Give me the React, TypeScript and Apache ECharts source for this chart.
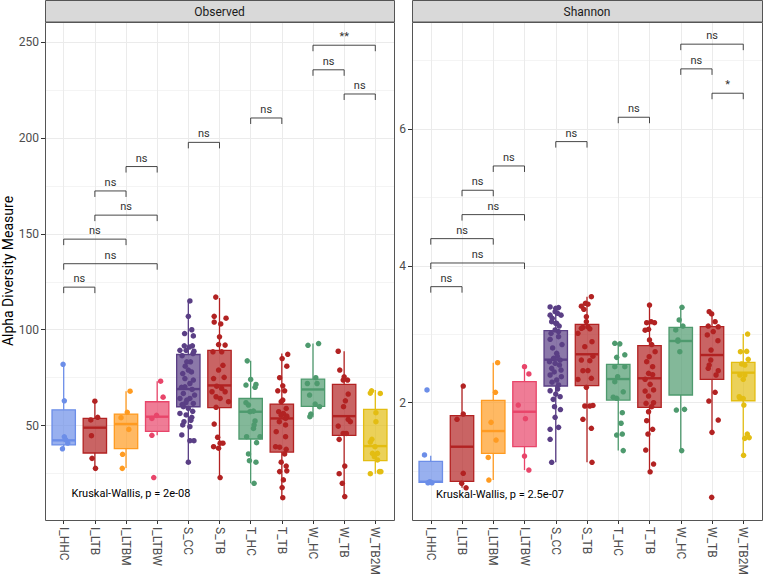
import React, { useEffect, useRef } from 'react';
import * as echarts from 'echarts';

// ---- groups and colours ----
const groups = ['I_HHC', 'I_LTB', 'I_LTBM', 'I_LTBW', 'S_CC', 'S_TB', 'T_HC', 'T_TB', 'W_HC', 'W_TB', 'W_TB2M'];
const groupColors = ['#6C8EE8', '#B22222', '#FF9B21', '#E8456A', '#5A3F85', '#B22222', '#4E9A6E', '#B22222', '#4E9A6E', '#B22222', '#E3BD12'];
const facetTitles = ['Observed', 'Shannon'];

// ---- Observed: box statistics (lower whisker, Q1, median, Q3, upper whisker) ----
const obsLow = [38, 28, 28, 45, 31, 23, 20, 12.5, 54.4, 13.1, 25];
const obsQ1 = [40, 35.8, 38.1, 47.1, 59.9, 59.4, 43.1, 36.3, 60.1, 45, 31.8];
const obsMed = [42.4, 49, 50.9, 54.7, 69.1, 71, 57.3, 53.8, 68.9, 55, 39.4];
const obsQ3 = [58.3, 53.8, 56.1, 62.5, 87.1, 89.3, 64.2, 61.3, 74.3, 71.5, 58.5];
const obsHigh = [82, 63, 68, 73.2, 115.3, 116.5, 83.8, 87.6, 92.8, 88.8, 68.6];

// ---- Observed: samples as [jitter, value] per group ----
const obsPoints: number[][][] = [
  [[-0.02, 82], [0.02, 63], [0.02, 44.2], [0.06, 42.8], [0.13, 41], [-0.04, 38]],
  [[0, 62.8], [0.09, 54.4], [-0.13, 53], [-0.11, 44.8], [-0.09, 33], [0.02, 27.8]],
  [[0.13, 68], [0.04, 57], [-0.16, 54.2], [0.09, 48.1], [-0.11, 35.1], [-0.12, 27.8]],
  [[0.11, 73.2], [0.19, 64.9], [-0.02, 55.4], [-0.17, 53.8], [-0.17, 45], [-0.11, 23]],
  [[0.05, 115], [0, 107], [-0.12, 98], [0.11, 100], [0.16, 96.8], [-0.13, 91.6], [0.13, 91.6], [0.03, 91],
    [-0.27, 89.3], [-0.07, 89.3], [0.15, 87.6], [0.07, 83.3], [-0.05, 83.3], [-0.11, 74.6], [-0.18, 77.2],
    [0, 79], [0.16, 73.8], [0.05, 72], [-0.11, 70.3], [0.12, 68.9], [-0.16, 66.8], [-0.27, 64.2], [0.05, 64.2],
    [-0.05, 63.4], [0.16, 61.6], [-0.16, 59.9], [0, 59], [-0.27, 56.4], [-0.07, 55.6], [0.11, 54.4],
    [-0.14, 52.1], [-0.18, 50.4], [0.05, 49.5], [-0.21, 45.2], [0.05, 42.2], [0.18, 42.2], [0, 31],
    [-0.2, 86.5], [0.18, 88.8], [-0.1, 81], [0.1, 78], [-0.22, 70], [0.2, 66], [-0.08, 62], [0.14, 57.5],
    [-0.2, 61], [0.08, 52.8]],
  [[-0.12, 117], [-0.17, 107], [0.21, 106], [-0.17, 104], [0.04, 103], [0, 96.3], [0.18, 92], [-0.03, 92.3],
    [-0.21, 88.5], [0.07, 88.5], [0.11, 81.5], [-0.03, 79], [-0.19, 74.6], [0.15, 75.2], [-0.09, 70.6],
    [0.07, 69.4], [0.18, 67.7], [-0.24, 67.7], [-0.11, 65.1], [0.02, 64.2], [0.29, 62.5], [-0.11, 59.6],
    [-0.17, 50.9], [-0.06, 44], [0.02, 40.9], [0.11, 40.9], [-0.19, 39.1], [-0.03, 38.3], [0.02, 23]],
  [[-0.11, 83.8], [0, 74.1], [-0.15, 71.2], [0.17, 71.5], [0.14, 70], [-0.07, 60.8], [-0.15, 62], [-0.02, 57.3],
    [0.09, 57.6], [0.14, 52.5], [0.11, 50.4], [0.09, 48.6], [-0.13, 44.3], [0.3, 44.3], [0.19, 41.2],
    [-0.07, 35.3], [-0.04, 31.8], [0.17, 31], [0.11, 20]],
  [[0.19, 87.2], [0.01, 85], [0.16, 81], [-0.07, 75], [0.03, 70.8], [-0.13, 68.2], [0.09, 68.2], [0.03, 63.4],
    [-0.02, 62.5], [0.14, 59], [-0.1, 57.3], [0.05, 56.4], [-0.02, 55.5], [0.16, 55], [0.12, 53.8],
    [-0.08, 52.1], [0.12, 50.4], [-0.18, 46.9], [0.12, 44.3], [-0.2, 39.1], [-0.07, 38.8], [0.14, 37.7],
    [0.09, 35.3], [-0.02, 31], [0.14, 29], [-0.07, 26.1], [0.16, 26.5], [0.05, 21.8], [0.01, 17.8], [0.03, 12.5]],
  [[-0.16, 91.9], [0.18, 92.8], [-0.18, 72], [0.13, 72], [0.09, 75], [-0.11, 66], [0.07, 61.3], [0.21, 59.9],
    [-0.07, 56.1], [-0.1, 54.7]],
  [[-0.19, 88.8], [-0.14, 79], [0, 75.5], [0.11, 73.8], [-0.03, 73.8], [0.13, 66.5], [0.04, 63], [-0.02, 59.9],
    [0.2, 52.1], [0.13, 53.3], [-0.19, 49.8], [-0.03, 46], [0.07, 46], [-0.16, 42.9], [0.02, 29], [-0.16, 25],
    [-0.06, 20], [0.02, 13.1]],
  [[-0.12, 68.2], [-0.16, 67], [0.16, 66.8], [0.02, 56.8], [0.02, 52.1], [-0.11, 42.9], [-0.16, 41.5],
    [-0.01, 39.1], [0.07, 35.6], [-0.09, 35.6], [-0.03, 33.9], [0.07, 32.2], [0.18, 26.1], [0.13, 26.1], [-0.16, 25]],
];

// ---- Shannon: box statistics ----
const shanLow = [0.82, 0.757, 0.87, 1.016, 1.129, 1.129, 1.3, 0.991, 1.3, 1.567, 1.231];
const shanQ1 = [0.836, 0.851, 1.26, 1.357, 2.244, 2.249, 2.039, 1.933, 2.113, 2.342, 2.029];
const shanMed = [0.845, 1.357, 1.586, 1.868, 2.629, 2.708, 2.346, 2.357, 2.902, 2.697, 2.439];
const shanQ3 = [1.143, 1.81, 2.035, 2.307, 3.053, 3.146, 2.561, 2.833, 3.102, 3.111, 2.591];
const shanHigh = [1.225, 2.244, 2.585, 2.526, 3.4, 3.55, 2.868, 3.428, 3.395, 3.33, 3.004];

// ---- Shannon: samples as [jitter, value] per group ----
const shanPoints: number[][][] = [
  [[-0.12, 2.186], [-0.2, 1.237], [-0.09, 0.83], [-0.03, 0.845], [0.04, 0.83]],
  [[0.04, 2.244], [0.04, 1.835], [-0.16, 1.757], [0.04, 0.968], [-0.01, 0.822], [0.13, 0.757]],
  [[0.14, 2.585], [0.07, 2.152], [-0.07, 1.713], [0.09, 1.455], [-0.16, 1.2], [-0.14, 0.87]],
  [[0, 2.526], [0.14, 2.42], [-0.2, 1.966], [0.03, 1.766], [0, 1.22], [0.14, 1.016]],
  [[-0.18, 3.4], [0.09, 3.39], [-0.02, 3.33], [0.17, 3.28], [-0.11, 3.234], [0.03, 3.16], [0.09, 3.04],
    [-0.15, 3.015], [0.09, 2.965], [-0.18, 2.927], [0.03, 2.722], [-0.07, 2.649], [0.14, 2.624], [-0.02, 2.576],
    [-0.13, 2.503], [0.17, 2.478], [-0.18, 2.405], [0.03, 2.332], [0.09, 2.259], [-0.18, 2.175], [0, 2.127],
    [0.14, 2.088], [-0.04, 1.942], [-0.02, 1.787], [0.09, 1.64], [-0.18, 1.611], [-0.18, 1.465], [-0.13, 1.129],
    [0, 3.38], [0.06, 3.307], [-0.18, 3.28], [-0.13, 3.184], [0, 3.16], [0.11, 3.12], [-0.02, 3.063],
    [0.2, 2.85], [-0.1, 2.8], [0.05, 2.68], [-0.2, 2.6], [0.12, 2.55], [-0.05, 2.45], [0.18, 2.38],
    [-0.12, 2.3], [0.06, 2.2], [-0.08, 2.05], [0.15, 1.9]],
  [[0.14, 3.55], [-0.05, 3.453], [0.03, 3.44], [-0.18, 3.41], [-0.1, 3.365], [-0.02, 3.257], [-0.02, 3.184],
    [0.03, 3.11], [-0.13, 3.1], [-0.18, 3.088], [0.09, 3.08], [-0.29, 3.015], [0.16, 2.892], [-0.07, 2.819],
    [-0.18, 2.624], [0.19, 2.68], [0.09, 2.614], [-0.13, 2.468], [0.03, 2.47], [0.14, 2.357], [-0.29, 2.34],
    [-0.02, 2.225], [-0.07, 1.952], [0.09, 1.952], [0.19, 1.96], [-0.13, 1.757], [0.14, 1.626], [0.16, 1.129]],
  [[-0.11, 2.868], [0.05, 2.86], [-0.05, 2.663], [0.21, 2.7], [-0.11, 2.526], [0.21, 2.526], [-0.02, 2.38],
    [-0.11, 2.307], [0.16, 2.16], [-0.05, 2.064], [-0.16, 2.08], [0.13, 1.854], [0.09, 1.7], [-0.05, 1.528],
    [0.13, 1.542], [0.16, 1.3]],
  [[0, 3.428], [0.05, 3.184], [-0.09, 3.17], [0.16, 3.17], [-0.03, 3.073], [-0.14, 3.06], [0, 2.917],
    [0.07, 2.85], [0.18, 2.746], [-0.01, 2.673], [-0.09, 2.6], [0.1, 2.526], [-0.03, 2.429], [0.1, 2.41],
    [-0.14, 2.342], [0.02, 2.269], [0.13, 2.186], [-0.14, 2.17], [-0.03, 2.098], [0.13, 2], [-0.11, 1.99],
    [0.07, 1.942], [-0.03, 1.868], [-0.09, 1.737], [0.1, 1.611], [-0.05, 1.542], [-0.12, 1.308], [0.13, 1.104],
    [0.02, 0.991]],
  [[0.04, 3.395], [-0.05, 3.209], [0.07, 3.121], [-0.16, 3.063], [-0.09, 2.917], [-0.09, 2.9], [-0.03, 2.746],
    [-0.14, 1.893], [0.12, 1.903], [0.03, 1.3]],
  [[-0.09, 3.33], [-0.01, 3.297], [0.1, 3.184], [-0.12, 3.121], [0.2, 3.11], [-0.15, 2.99], [0.04, 3.04],
    [0.19, 2.906], [-0.03, 2.77], [-0.09, 2.551], [-0.04, 2.624], [-0.12, 2.503], [0.2, 2.468], [0.13, 2.405],
    [0.1, 2.152], [-0.1, 2.025], [0.2, 1.747], [0, 1.567], [-0.01, 0.617]],
  [[0.14, 3.004], [-0.09, 2.746], [0.11, 2.75], [0.16, 2.635], [-0.05, 2.566], [0.05, 2.55], [-0.11, 2.405],
    [0.05, 2.405], [0, 2.342], [-0.13, 2.088], [-0.11, 2.07], [0, 2.06], [0.02, 1.966], [0.13, 1.542],
    [0.05, 1.479], [0.19, 1.49], [0.01, 1.231]],
];

// ---- pairwise comparisons (group indices), bracket heights and significance labels ----
const bracketPairs = [[8, 10], [8, 9], [9, 10], [6, 7], [4, 5], [2, 3], [1, 2], [1, 3], [0, 2], [0, 3], [0, 1]];
const obsBracketY = [248.2, 235.4, 222.8, 210.3, 197.6, 185, 172.3, 159.7, 147.2, 134.4, 122.2];
const obsBracketLabels = ['**', 'ns', 'ns', 'ns', 'ns', 'ns', 'ns', 'ns', 'ns', 'ns', 'ns'];
const shanBracketY = [7.24, 6.879, 6.523, 6.172, 5.816, 5.46, 5.105, 4.749, 4.398, 4.042, 3.696];
const shanBracketLabels = ['ns', 'ns', '*', 'ns', 'ns', 'ns', 'ns', 'ns', 'ns', 'ns', 'ns'];

// ---- global test labels and their anchor [x, y] ----
const kwLabels = ['Kruskal-Wallis, p = 2e-08', 'Kruskal-Wallis, p = 2.5e-07'];
const kwAnchors = [[0.25, 14.5], [0.17, 0.665]];

// ---- axis ranges and ticks ----
const obsRange = [0.9, 260.3];
const shanRange = [0.286, 7.564];
const obsTicks = [50, 100, 150, 200, 250];
const obsMinorTicks = [25, 75, 125, 175, 225];
const shanTicks = [2, 4, 6];
const shanMinorTicks = [1, 3, 5, 7];

const FONT = 'Roboto, "Noto Sans", sans-serif';
const PANEL_TOP = 22;
const PANEL_H = 498;
const panels = [
  { left: 45, width: 349 },
  { left: 412, width: 350 },
];
const BOX_WIDTH = 0.75;
const FILL_ALPHA = 0.7;

function rgba(hex: string, a: number) {
  const n = parseInt(hex.slice(1), 16);
  return `rgba(${(n >> 16) & 255},${(n >> 8) & 255},${n & 255},${a})`;
}

function buildOption() {
  const catIdx = groups.map((_, i) => i);
  const facets = [
    { low: obsLow, q1: obsQ1, med: obsMed, q3: obsQ3, high: obsHigh, pts: obsPoints, by: obsBracketY, bl: obsBracketLabels, range: obsRange, ticks: obsTicks, minor: obsMinorTicks },
    { low: shanLow, q1: shanQ1, med: shanMed, q3: shanQ3, high: shanHigh, pts: shanPoints, by: shanBracketY, bl: shanBracketLabels, range: shanRange, ticks: shanTicks, minor: shanMinorTicks },
  ];

  const grid = panels.map((p) => ({
    left: p.left, top: PANEL_TOP, width: p.width, height: PANEL_H,
    containLabel: false, outerBoundsMode: 'none',
  }));

  const xAxis = panels.map((_, k) => ({
    type: 'value', gridIndex: k, min: -0.6, max: 10.6,
    axisLine: { show: false, onZero: false },
    axisTick: { show: true, customValues: catIdx, length: 4, lineStyle: { color: '#333333', width: 1 } },
    axisLabel: {
      customValues: catIdx, rotate: -90, margin: 7, color: '#4d4d4d', fontSize: 12, fontFamily: FONT,
      formatter: (v: number) => groups[Math.round(v)] ?? '',
    },
    splitLine: { show: true, lineStyle: { color: '#ebebeb', width: 1 } },
  }));

  const yAxis: any[] = [];
  facets.forEach((f, k) => {
    yAxis.push({
      type: 'value', gridIndex: k, min: f.range[0], max: f.range[1],
      name: k === 0 ? 'Alpha Diversity Measure' : '',
      nameLocation: 'middle', nameGap: 24, nameRotate: 90,
      nameTextStyle: { fontSize: 14, color: '#000000', fontFamily: FONT },
      axisLine: { show: false, onZero: false },
      axisTick: { show: true, customValues: f.ticks, length: 4, lineStyle: { color: '#333333', width: 1 } },
      axisLabel: { customValues: f.ticks, margin: 6, color: '#4d4d4d', fontSize: 12, fontFamily: FONT },
      splitLine: { show: true, lineStyle: { color: '#ebebeb', width: 1 } },
    });
    // minor grid lines
    yAxis.push({
      type: 'value', gridIndex: k, min: f.range[0], max: f.range[1],
      axisLine: { show: false, onZero: false },
      axisTick: { show: false, customValues: f.minor },
      axisLabel: { show: false, customValues: f.minor },
      splitLine: { show: true, lineStyle: { color: '#f4f4f4', width: 1 } },
    });
  });

  const series: any[] = [];
  facets.forEach((f, k) => {
    const yIdx = k * 2;
    // boxes with whiskers
    series.push({
      type: 'custom', xAxisIndex: k, yAxisIndex: yIdx, z: 2,
      data: groups.map((_, i) => [i, f.low[i], f.q1[i], f.med[i], f.q3[i], f.high[i]]),
      encode: { x: 0, y: [1, 2, 3, 4, 5] },
      renderItem: (params: any, api: any) => {
        const i = api.value(0);
        const color = groupColors[i];
        const pLo = api.coord([i, api.value(1)]);
        const pQ1 = api.coord([i, api.value(2)]);
        const pMed = api.coord([i, api.value(3)]);
        const pQ3 = api.coord([i, api.value(4)]);
        const pHi = api.coord([i, api.value(5)]);
        const hw = api.size([BOX_WIDTH, 0])[0] / 2;
        const cx = pMed[0];
        return {
          type: 'group',
          children: [
            { type: 'line', shape: { x1: cx, y1: pLo[1], x2: cx, y2: pQ1[1] }, style: { stroke: color, lineWidth: 1.3 } },
            { type: 'line', shape: { x1: cx, y1: pQ3[1], x2: cx, y2: pHi[1] }, style: { stroke: color, lineWidth: 1.3 } },
            { type: 'rect', shape: { x: cx - hw, y: pQ3[1], width: hw * 2, height: pQ1[1] - pQ3[1] }, style: { fill: rgba(color, FILL_ALPHA), stroke: color, lineWidth: 1.3 } },
            { type: 'line', shape: { x1: cx - hw, y1: pMed[1], x2: cx + hw, y2: pMed[1] }, style: { stroke: color, lineWidth: 2.4 } },
          ],
        };
      },
    });
    // jittered samples
    const pts: any[] = [];
    f.pts.forEach((list, i) => {
      list.forEach(([dx, v]) => {
        pts.push({ value: [i + dx, v], itemStyle: { color: groupColors[i] } });
      });
    });
    series.push({
      type: 'scatter', xAxisIndex: k, yAxisIndex: yIdx, z: 3, clip: false,
      symbol: 'circle', symbolSize: 5.5, data: pts,
      itemStyle: { opacity: 1, borderWidth: 0 },
      emphasis: { disabled: true },
    });
    // significance brackets
    series.push({
      type: 'custom', xAxisIndex: k, yAxisIndex: yIdx, z: 4,
      data: bracketPairs.map(([a, b], j) => [a, b, f.by[j]]),
      encode: { x: [0, 1], y: 2 },
      renderItem: (params: any, api: any) => {
        const a = api.coord([api.value(0), api.value(2)]);
        const b = api.coord([api.value(1), api.value(2)]);
        const label = f.bl[params.dataIndex];
        return {
          type: 'group',
          children: [
            {
              type: 'polyline',
              shape: { points: [[a[0], a[1] + 6], [a[0], a[1]], [b[0], b[1]], [b[0], b[1] + 6]] },
              style: { stroke: '#333333', lineWidth: 0.9, fill: 'none' },
            },
            {
              type: 'text', x: (a[0] + b[0]) / 2, y: a[1] - 3,
              style: { text: label, fill: '#333333', fontSize: 11, fontFamily: FONT, align: 'center', verticalAlign: 'bottom' },
            },
          ],
        };
      },
    });
    // global test label
    series.push({
      type: 'custom', xAxisIndex: k, yAxisIndex: yIdx, z: 4,
      data: [kwAnchors[k]],
      encode: { x: 0, y: 1 },
      renderItem: (params: any, api: any) => {
        const p = api.coord([api.value(0), api.value(1)]);
        return {
          type: 'text', x: p[0], y: p[1],
          style: { text: kwLabels[k], fill: '#000000', fontSize: 11, fontFamily: FONT, align: 'left', verticalAlign: 'middle' },
        };
      },
    });
  });

  // facet strips and panel borders
  const graphic: any[] = [];
  panels.forEach((p, k) => {
    graphic.push({
      type: 'rect', z: 10,
      shape: { x: p.left + 0.5, y: 0.5, width: p.width, height: PANEL_TOP - 0.5 },
      style: { fill: '#d9d9d9', stroke: '#555555', lineWidth: 1 },
    });
    graphic.push({
      type: 'text', z: 11, x: p.left + p.width / 2, y: PANEL_TOP / 2 + 0.5,
      style: { text: facetTitles[k], fill: '#1a1a1a', fontSize: 12, fontFamily: FONT, align: 'center', verticalAlign: 'middle' },
    });
    graphic.push({
      type: 'rect', z: 10,
      shape: { x: p.left + 0.5, y: PANEL_TOP + 0.5, width: p.width, height: PANEL_H },
      style: { fill: 'none', stroke: '#555555', lineWidth: 1 },
    });
  });

  return {
    animation: false,
    backgroundColor: '#ffffff',
    textStyle: { fontFamily: FONT },
    grid, xAxis, yAxis, series, graphic,
  };
}

export default function App() {
  const ref = useRef<HTMLDivElement>(null);
  useEffect(() => {
    if (!ref.current) return;
    const chart = echarts.init(ref.current, undefined, { renderer: 'svg' });
    chart.setOption(buildOption() as any);
    return () => chart.dispose();
  }, []);
  return (
    <div
      ref={ref}
      style={{ position: 'absolute', left: 0, top: 0, width: 764, height: 577, background: '#ffffff' }}
    />
  );
}
